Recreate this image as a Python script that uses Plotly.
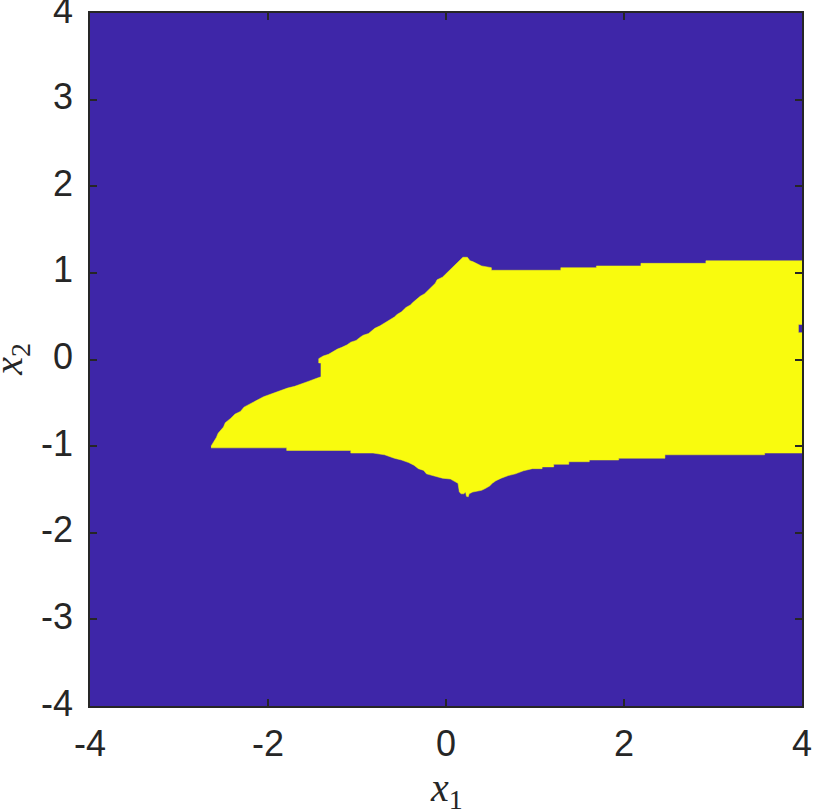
import plotly.graph_objects as go

# Tick values
x_ticks = [-4, -2, 0, 2, 4]
y_ticks = [-4, -3, -2, -1, 0, 1, 2, 3, 4]

# Upper boundary of the yellow region (x1 ascending)
upper_x1 = [-2.64, -2.61, -2.58, -2.56, -2.53, -2.50, -2.48, -2.45, -2.42, -2.37, -2.31, -2.27,
            -2.21, -2.16, -2.05, -2.00, -1.94, -1.87, -1.78, -1.70, -1.61, -1.54, -1.46, -1.405,
            -1.405, -1.43, -1.43, -1.38, -1.32, -1.27, -1.22, -1.17, -1.11, -1.07, -1.01, -0.96,
            -0.93, -0.87, -0.82, -0.80, -0.74, -0.69, -0.66, -0.61, -0.58, -0.55, -0.50, -0.45,
            -0.40, -0.37, -0.34, -0.29, -0.24, -0.21, -0.18, -0.15, -0.12, -0.10, -0.04, -0.02,
            0.01, 0.04, 0.06, 0.09, 0.12, 0.14, 0.17, 0.19, 0.24, 0.27, 0.30, 0.40, 0.51, 0.51,
            1.29, 1.29, 1.69, 1.69, 2.19, 2.19, 2.92, 2.92, 4.0]
upper_x2 = [-1.00, -0.95, -0.90, -0.85, -0.82, -0.78, -0.73, -0.71, -0.68, -0.63, -0.60, -0.55,
            -0.52, -0.49, -0.43, -0.41, -0.39, -0.36, -0.33, -0.31, -0.28, -0.25, -0.22, -0.20,
            -0.04, -0.04, 0.01, 0.04, 0.06, 0.09, 0.12, 0.14, 0.17, 0.20, 0.22, 0.26,
            0.28, 0.30, 0.34, 0.36, 0.39, 0.42, 0.44, 0.47, 0.49, 0.52, 0.55, 0.60,
            0.63, 0.66, 0.69, 0.73, 0.76, 0.79, 0.82, 0.85, 0.88, 0.92, 0.95, 0.97,
            1.00, 1.03, 1.06, 1.08, 1.11, 1.14, 1.16, 1.18, 1.18, 1.14, 1.13, 1.08, 1.06, 1.03,
            1.03, 1.06, 1.06, 1.08, 1.08, 1.11, 1.11, 1.14, 1.14]

# Right edge, including the small notch near x2 = 0.35
edge_x1 = [4.0, 3.96, 3.96, 4.0, 4.0]
edge_x2 = [0.405, 0.405, 0.31, 0.31, -1.08]

# Lower boundary of the yellow region (x1 descending)
lower_x1 = [3.58, 3.58, 2.46, 2.46, 1.94, 1.94, 1.61, 1.61, 1.38, 1.38, 1.21, 1.21, 1.08, 1.08,
            0.97, 0.87, 0.78, 0.70, 0.62, 0.56, 0.52, 0.49, 0.44, 0.40, 0.30, 0.26, 0.25, 0.23,
            0.22, 0.20, 0.17, 0.15, 0.135, 0.09, 0.05, -0.04, -0.12, -0.22, -0.25, -0.31, -0.36,
            -0.42, -0.50, -0.58, -0.69, -0.82, -1.07, -1.07, -1.79, -1.79, -2.64]
lower_x2 = [-1.08, -1.10, -1.10, -1.14, -1.14, -1.16, -1.16, -1.18, -1.18, -1.21, -1.21, -1.24, -1.24, -1.26,
            -1.26, -1.285, -1.32, -1.34, -1.37, -1.40, -1.43, -1.46, -1.49, -1.51, -1.53, -1.55, -1.585, -1.58,
            -1.53, -1.55, -1.55, -1.53, -1.43, -1.40, -1.38, -1.37, -1.35, -1.32, -1.28, -1.26, -1.22,
            -1.19, -1.16, -1.14, -1.10, -1.08, -1.08, -1.05, -1.05, -1.02, -1.02]

BLUE = "#3E26A8"
YELLOW = "#F9FB0E"
AXC = "#262626"

poly_x = upper_x1 + edge_x1 + lower_x1
poly_x2 = upper_x2 + edge_x2 + lower_x2

fig = go.Figure()
fig.add_trace(go.Scatter(
    x=poly_x, y=poly_x2, mode="lines", fill="toself",
    fillcolor=YELLOW, line=dict(color=YELLOW, width=0.5),
    hoverinfo="skip", showlegend=False,
))

tick_font = dict(family="Liberation Sans, Arial, sans-serif", size=36, color=AXC)
title_font = dict(family="Liberation Serif, Times New Roman, serif", size=40, color=AXC)

fig.update_layout(
    width=814, height=811,
    margin=dict(l=90, r=12, t=13, b=105),
    paper_bgcolor="white",
    plot_bgcolor=BLUE,
    showlegend=False,
)
fig.update_xaxes(
    range=[-4, 4], tickvals=x_ticks, ticktext=[str(v) for v in x_ticks],
    ticks="inside", ticklen=7, tickwidth=1.5, tickcolor=AXC,
    showline=True, linecolor=AXC, linewidth=1.5, mirror="allticks",
    showgrid=False, zeroline=False, tickfont=tick_font,
    ticklabeloverflow="allow", ticklabelstandoff=5, automargin=False,
)
fig.update_yaxes(
    range=[-4, 4], tickvals=y_ticks, ticktext=[str(v) for v in y_ticks],
    ticks="inside", ticklen=7, tickwidth=1.5, tickcolor=AXC,
    showline=True, linecolor=AXC, linewidth=1.5, mirror="allticks",
    showgrid=False, zeroline=False, tickfont=tick_font,
    ticklabeloverflow="allow", ticklabelstandoff=8, ticklabelshift=-3, automargin=False,
)

# axis titles (LaTeX-style x_1 and x_2)
fig.add_annotation(text="<i>x</i><sub>1</sub>", xref="paper", yref="paper",
                   x=0.5, y=-0.121, xanchor="center", yanchor="middle",
                   showarrow=False, font=title_font)
fig.add_annotation(text="<i>x</i><sub>2</sub>", xref="paper", yref="paper",
                   x=-0.112, y=0.5, xanchor="center", yanchor="middle",
                   textangle=-90, showarrow=False, font=title_font)

# remove the default page margin so the figure sits at the window's top-left corner
fig.write_html("out.html", config={"displayModeBar": False},
               post_script="document.body.style.margin='0';")
